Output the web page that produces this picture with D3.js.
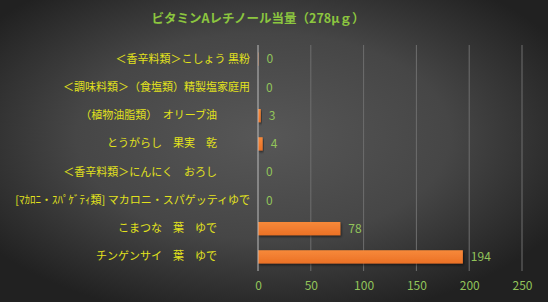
<!DOCTYPE html>
<html>
<head>
<meta charset="utf-8">
<script src="https://cdn.jsdelivr.net/npm/d3@7/dist/d3.min.js"></script>
<style>
html,body{margin:0;padding:0;background:#333;}
svg{display:block;}
text{font-family:"Noto Sans CJK JP","Noto Sans",sans-serif;}
</style>
</head>
<body>
<svg id="chart" width="548" height="302"></svg>
<script>
const titleText = "ビタミンAレチノール当量（278μｇ）";
const categories = [
  "＜香辛料類＞こしょう 黒粉",
  "＜調味料類＞（食塩類）精製塩家庭用",
  "（植物油脂類）　オリーブ油　　　",
  "とうがらし　果実　乾　　　",
  "＜香辛料類＞にんにく　おろし　　　",
  "[ﾏｶﾛﾆ・ｽﾊﾟｹﾞﾃｨ類] マカロニ・スパゲッティゆで",
  "こまつな　葉　ゆで　　　",
  "チンゲンサイ　葉　ゆで　　　"
];
const values = [0.4, 0, 2.6, 4.4, 0, 0, 78, 194];
const xTicks = [0, 50, 100, 150, 200, 250];

const svg = d3.select("#chart");
const W = 548, H = 302;
const margin = {left: 258, right: 26, top: 45, bottom: 31};

const defs = svg.append("defs");
const bg = defs.append("radialGradient").attr("id","bg")
  .attr("cx","48%").attr("cy","45%").attr("r","62%");
bg.append("stop").attr("offset","0%").attr("stop-color","#575757");
bg.append("stop").attr("offset","55%").attr("stop-color","#464646");
bg.append("stop").attr("offset","100%").attr("stop-color","#212121");
const barG = defs.append("linearGradient").attr("id","barg")
  .attr("x1","0").attr("y1","0").attr("x2","0").attr("y2","1");
barG.append("stop").attr("offset","0%").attr("stop-color","#f7893a");
barG.append("stop").attr("offset","100%").attr("stop-color","#eb7126");
const sh = defs.append("filter").attr("id","sh").attr("x","-10%").attr("y","-30%").attr("width","130%").attr("height","180%");
sh.append("feDropShadow").attr("dx",1).attr("dy",1.5).attr("stdDeviation",1.2).attr("flood-color","#000").attr("flood-opacity",0.55);

svg.append("rect").attr("width",W).attr("height",H).attr("fill","url(#bg)");

const x = d3.scaleLinear().domain([0, 250]).range([margin.left, W - margin.right]);
const y = d3.scaleBand().domain(categories).range([margin.top, H - margin.bottom]).paddingInner(0.53).paddingOuter(0.265);

// gridlines
svg.append("g").selectAll("line").data(xTicks.slice(1)).join("line")
  .attr("x1", d => x(d)).attr("x2", d => x(d))
  .attr("y1", margin.top).attr("y2", H - margin.bottom)
  .attr("stroke", "#6e6e6e").attr("stroke-width", 1);

// bars
svg.append("g").selectAll("rect").data(values).join("rect")
  .attr("x", x(0))
  .attr("y", (d,i) => y(categories[i]))
  .attr("width", d => x(d) - x(0))
  .attr("height", y.bandwidth())
  .attr("fill", "url(#barg)")
  .attr("filter", "url(#sh)");

// value axis line
svg.append("line").attr("x1", x(0)).attr("x2", x(0))
  .attr("y1", margin.top).attr("y2", H - margin.bottom)
  .attr("stroke", "#bdbdbd").attr("stroke-width", 1);

// data labels
svg.append("g").selectAll("text").data(values).join("text")
  .attr("x", d => x(d) + 8)
  .attr("y", (d,i) => y(categories[i]) + y.bandwidth()/2)
  .attr("dy", "0.35em")
  .attr("fill", "#92c45a")
  .attr("font-size", 12)
  .attr("font-family", '"Noto Sans",sans-serif')
  .text(d => d3.format(".0f")(d));

// category labels
const yAxis = d3.axisLeft(y).tickSize(0).tickPadding(8);
const ya = svg.append("g").attr("transform", `translate(${x(0)},0)`).call(yAxis);
ya.select(".domain").remove();
ya.selectAll("text").attr("fill", "#e2e21c").attr("font-size", 11)
  .style("white-space","pre")
  .attr("font-family", '"Noto Sans CJK JP",sans-serif');

// x axis ticks
const xAxis = d3.axisBottom(x).tickValues(xTicks).tickSize(0).tickPadding(8);
const xa = svg.append("g").attr("transform", `translate(0,${H - margin.bottom + 2})`).call(xAxis);
xa.select(".domain").remove();
xa.selectAll("text").attr("fill", "#92c45a").attr("font-size", 12)
  .attr("font-family", '"Noto Sans",sans-serif');

// title
svg.append("text").attr("x", 258).attr("y", 23)
  .attr("text-anchor", "middle")
  .attr("fill", "#8cc63f").attr("font-size", 12.5).attr("font-weight", "bold")
  .text(titleText);
</script>
</body>
</html>
